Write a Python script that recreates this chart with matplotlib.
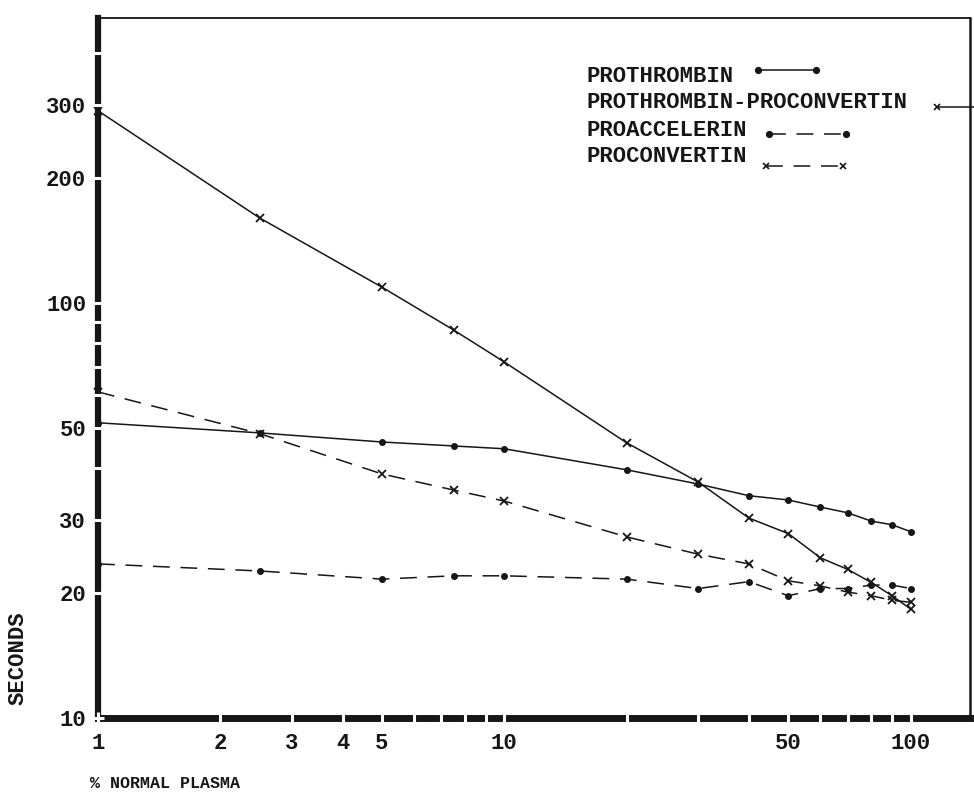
import numpy as np
import matplotlib
matplotlib.use('Agg')
import matplotlib.pyplot as plt
from matplotlib.lines import Line2D
from matplotlib.ticker import FixedLocator, LogLocator, NullFormatter

# % normal plasma
pct = [1, 2.5, 5, 7.5, 10, 20, 30, 40, 50, 60, 70, 80, 90, 100]

# clotting time, seconds
prothrombin = [51.4, 48.6, 46.2, 45.2, 44.5, 39.6, 36.6, 34.3, 33.5, 32.2, 31.2, 29.8, 29.2, 28.1]
prothrombin_proconvertin = [290, 160, 109, 86, 72, 46, 37, 30.3, 27.8, 24.3, 22.8, 21.2, 19.7, 18.3]
proaccelerin = [23.5, 22.6, 21.6, 22.0, 22.0, 21.6, 20.5, 21.3, 19.7, 20.5, 20.5, 20.9, 20.9, 20.5]
proconvertin = [61, 48.4, 38.7, 35.4, 33.3, 27.3, 24.8, 23.5, 21.4, 20.8, 20.1, 19.7, 19.2, 19.0]

xticks = [1, 2, 3, 4, 5, 10, 50, 100]
xtick_labels = ['1', '2', '3', '4', '5', '10', '50', '100']
yticks = [10, 20, 30, 50, 100, 200, 300]
ytick_labels = ['10', '20', '30', '50', '100', '200', '300']

ink = '#161616'
mono = ['Liberation Mono', 'DejaVu Sans Mono']
plt.rcParams['font.family'] = mono

W, H = 974, 792

def fx(px):
	return px / W

def fy(py):
	return 1 - py / H

fig = plt.figure(figsize=(W / 100, H / 100), dpi=100)
fig.patch.set_facecolor('white')
ax = fig.add_axes([fx(98), fy(718), fx(970) - fx(98), fy(18) - fy(718)])
ax.set_xscale('log')
ax.set_yscale('log')
ax.set_xlim(1, 140)
ax.set_ylim(10, 485)

dash = (0, (11, 7))
ax.plot(pct, prothrombin, ls='-', lw=1.1, color=ink, marker='o', ms=4, clip_on=False)
ax.plot(pct, prothrombin_proconvertin, ls='-', lw=1.1, color=ink, marker='x', ms=6, mew=1.3, clip_on=False)
ax.plot(pct, proaccelerin, ls=dash, lw=1.1, color=ink, marker='o', ms=4, clip_on=False)
ax.plot(pct, proconvertin, ls=dash, lw=1.1, color=ink, marker='x', ms=6, mew=1.3, clip_on=False)

# frame: heavy left/bottom rules, thin top/right
ax.spines['left'].set_linewidth(4.5)
ax.spines['bottom'].set_linewidth(5)
ax.spines['top'].set_linewidth(1.3)
ax.spines['right'].set_linewidth(1.8)
for s in ax.spines.values():
	s.set_color(ink)

ax.xaxis.set_major_locator(FixedLocator(xticks))
ax.set_xticklabels(xtick_labels)
ax.xaxis.set_minor_locator(LogLocator(subs=np.arange(2, 10)))
ax.xaxis.set_minor_formatter(NullFormatter())
ax.yaxis.set_major_locator(FixedLocator(yticks))
ax.set_yticklabels(ytick_labels)
ax.yaxis.set_minor_locator(LogLocator(subs=np.arange(2, 10)))
ax.yaxis.set_minor_formatter(NullFormatter())

# white ticks cut small gaps into the heavy rules, so draw them over the spines
ax.xaxis.set_zorder(3)
ax.yaxis.set_zorder(3)
ax.tick_params(which='both', direction='inout', color='white', length=9, width=2.2, labelcolor=ink)
ax.tick_params(axis='x', which='major', pad=6, labelsize=16)
ax.tick_params(axis='y', which='major', pad=4, labelsize=16)
for lab in ax.get_xticklabels() + ax.get_yticklabels():
	lab.set_fontweight('bold')

fig.text(fx(18), fy(658), 'SECONDS', rotation=90, ha='center', va='center', fontsize=16, fontweight='bold', color=ink)
fig.text(fx(90), fy(783), '% NORMAL PLASMA', ha='left', va='center', fontsize=12, fontweight='bold', color=ink)

# typed key, each sample follows its label
def key_row(label, ty, x0, x1, ly, style, marker):
	fig.text(fx(587), fy(ty), label, ha='left', va='center', fontsize=16, fontweight='bold', color=ink)
	fig.add_artist(Line2D([fx(x0), fx(x1)], [fy(ly), fy(ly)], transform=fig.transFigure,
		ls=style, lw=1.1, color=ink, marker=marker, ms=4 if marker == 'o' else 5, mew=1.2))

key_row('PROTHROMBIN', 76, 758, 816, 70, '-', 'o')
key_row('PROTHROMBIN-PROCONVERTIN', 103, 937, 985, 107, '-', 'x')
key_row('PROACCELERIN', 131, 769, 846, 134, dash, 'o')
key_row('PROCONVERTIN', 157, 766, 843, 166, dash, 'x')

fig.savefig('out.png', dpi=100, facecolor='white')
